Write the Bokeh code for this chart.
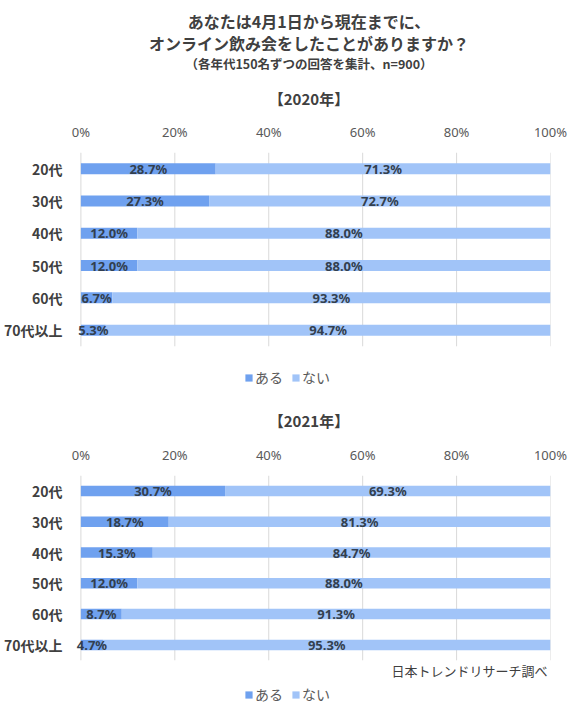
from bokeh.plotting import figure
from bokeh.models import (ColumnDataSource, Range1d, FixedTicker, Label,
                          PrintfTickFormatter, Legend, LegendItem)
from bokeh.layouts import column
from bokeh.core.properties import value
from bokeh.embed import file_html
from bokeh.resources import INLINE

ages = ["20代", "30代", "40代", "50代", "60代", "70代以上"]
aru_2020 = [28.7, 27.3, 12.0, 12.0, 6.7, 5.3]
nai_2020 = [71.3, 72.7, 88.0, 88.0, 93.3, 94.7]
aru_2021 = [30.7, 18.7, 15.3, 12.0, 8.7, 4.7]
nai_2021 = [69.3, 81.3, 84.7, 88.0, 91.3, 95.3]
x_ticks = [0, 20, 40, 60, 80, 100]

ARU = "#6fa1ef"
NAI = "#a1c4f8"
JP = "Noto Sans CJK JP"
NUM = "Noto Sans"
W = 583
MID = 289

# category slot i sits at y = i (top row = highest)
pos = list(range(len(ages) - 1, -1, -1))
top_edge = len(ages) - 0.5
bottom_edge = -0.5


def header(height, lines):
    # lines: (text, y from bottom, size, style)
    h = figure(width=W, height=height, output_backend="svg", toolbar_location=None,
               x_range=Range1d(0, W), y_range=Range1d(0, height),
               x_axis_location=None, y_axis_location=None, min_border=0)
    h.outline_line_color = None
    h.grid.visible = False
    for text, y, size, style in lines:
        h.add_layout(Label(x=MID, y=y, text=text, text_align="center",
                           text_baseline="middle", text_font=JP, text_font_size=size,
                           text_font_style=style, text_color="#404040"))
    return h


def make_chart(aru, nai, height, top, band, legend_y):
    src = ColumnDataSource(dict(
        pos=pos, aru=aru, nai=nai,
        aru_x=[a / 2 for a in aru],
        nai_x=[a + n / 2 for a, n in zip(aru, nai)],
        aru_lbl=[f"{a:.1f}%" for a in aru],
        nai_lbl=[f"{n:.1f}%" for n in nai],
    ))
    frame_h = height - top
    p = figure(width=W, height=height, output_backend="svg", toolbar_location=None,
               y_range=Range1d(top_edge - frame_h / band, top_edge),
               x_range=Range1d(-2, 100), x_axis_location="above",
               min_border_left=71, min_border_right=33,
               min_border_top=top, min_border_bottom=0)
    p.outline_line_color = None
    p.grid.grid_line_color = None

    # grid lines only across the category bands
    p.segment(x0=x_ticks, x1=x_ticks, y0=[bottom_edge] * len(x_ticks),
              y1=[top_edge] * len(x_ticks), line_color="#d9d9d9", line_width=1)

    p.xaxis.ticker = FixedTicker(ticks=x_ticks)
    p.xaxis.formatter = PrintfTickFormatter(format="%d%%")
    p.xaxis.axis_line_color = None
    p.xaxis.major_tick_line_color = None
    p.xaxis.minor_tick_line_color = None
    p.xaxis.major_label_standoff = 6
    p.xaxis.major_label_text_font = NUM
    p.xaxis.major_label_text_font_size = "13px"
    p.xaxis.major_label_text_color = "#595959"

    p.yaxis.ticker = FixedTicker(ticks=pos)
    p.yaxis.major_label_overrides = {k: a for k, a in zip(pos, ages)}
    p.yaxis.axis_line_color = None
    p.yaxis.major_tick_line_color = None
    p.yaxis.minor_tick_line_color = None
    p.yaxis.major_label_standoff = 3
    p.yaxis.major_label_text_font = JP
    p.yaxis.major_label_text_font_size = "14px"
    p.yaxis.major_label_text_font_style = "bold"
    p.yaxis.major_label_text_color = "#404040"

    rs = p.hbar_stack(["aru", "nai"], y="pos", height=0.34, color=[ARU, NAI],
                      line_color=None, source=src)
    for xcol, tcol in (("aru_x", "aru_lbl"), ("nai_x", "nai_lbl")):
        p.text(x=xcol, y="pos", text=tcol, source=src, text_align="center",
               text_baseline="middle", text_font=value(NUM), text_font_size="13px",
               text_font_style="bold", text_color="#323f4f")

    legend = Legend(items=[LegendItem(label="ある", renderers=[rs[0]]),
                           LegendItem(label="ない", renderers=[rs[1]])],
                    orientation="horizontal", location=(173, legend_y), margin=0,
                    glyph_width=9, glyph_height=9, label_standoff=2, spacing=8,
                    padding=3, border_line_color=None, background_fill_alpha=0,
                    label_text_font=JP, label_text_font_size="14px",
                    label_text_color="#595959")
    p.add_layout(legend, "center")
    return p


h1 = header(116, [
    ("あなたは4月1日から現在までに、", 96, "16px", "bold"),
    ("オンライン飲み会をしたことがありますか？", 74, "16px", "bold"),
    ("（各年代150名ずつの回答を集計、n=900）", 53, "12.5px", "bold"),
    ("【2020年】", 18, "15px", "bold"),
])
p1 = make_chart(aru_2020, nai_2020, 284, 36, 32.3, 13)

h2 = header(36, [("【2021年】", 16, "15px", "bold")])
band2 = 30.8
p2 = make_chart(aru_2021, nai_2021, 279, 39, band2, 11)
p2.add_layout(Label(x=100, y=bottom_edge - 10 / band2, x_offset=-3,
                    text="日本トレンドリサーチ調べ", text_align="right",
                    text_baseline="middle", text_font=JP, text_font_size="13px",
                    text_color="#404040"))

layout = column(h1, p1, h2, p2)
open("out.html", "w").write(file_html(layout, INLINE))
